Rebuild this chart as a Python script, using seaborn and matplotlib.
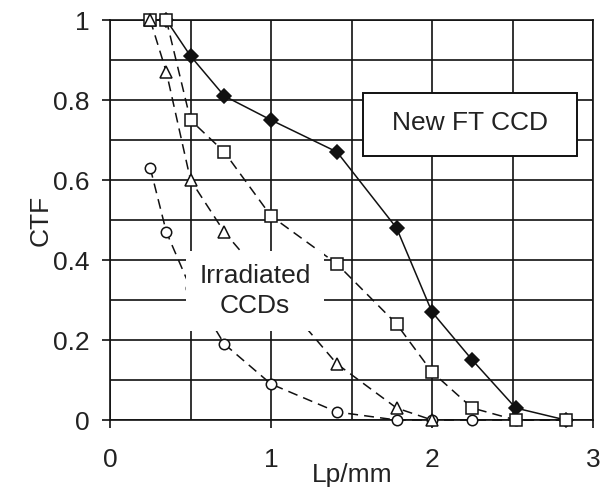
import matplotlib
matplotlib.use("Agg")
import matplotlib.pyplot as plt
import seaborn as sns
import pandas as pd
from matplotlib.patches import Rectangle
from matplotlib.ticker import MultipleLocator

# ---- data ----
new_x = [0.35, 0.5, 0.71, 1.0, 1.41, 1.78, 2.0, 2.25, 2.52, 2.83]
new_y = [1.0, 0.91, 0.81, 0.75, 0.67, 0.48, 0.27, 0.15, 0.03, 0.0]

sq_x = [0.25, 0.35, 0.5, 0.71, 1.0, 1.41, 1.78, 2.0, 2.25, 2.52, 2.83]
sq_y = [1.0, 1.0, 0.75, 0.67, 0.51, 0.39, 0.24, 0.12, 0.03, 0.0, 0.0]

tri_x = [0.25, 0.35, 0.5, 0.71, 1.41, 1.78, 2.0]
tri_y = [1.0, 0.87, 0.60, 0.47, 0.14, 0.03, 0.0]

circ_x = [0.25, 0.35, 0.5, 0.71, 1.0, 1.41, 1.78, 2.0, 2.25, 2.52, 2.83]
circ_y = [0.63, 0.47, 0.33, 0.19, 0.09, 0.02, 0.0, 0.0, 0.0, 0.0, 0.0]

x_ticks = [0, 1, 2, 3]
y_ticks = [0, 0.2, 0.4, 0.6, 0.8, 1]
y_ticklabels = ["0", "0.2", "0.4", "0.6", "0.8", "1"]

# ---- style ----
sns.set_theme(style="white")
plt.rcParams["font.family"] = ["Liberation Sans", "DejaVu Sans"]
plt.rcParams["axes.edgecolor"] = "#111111"

fig = plt.figure(figsize=(6.02, 4.88), dpi=100)
ax = fig.add_axes([110/602, 1-420/488, (593-110)/602, 400/488])

dash = (0, (6.5, 4.0))
common = dict(ax=ax, sort=False, color="#111111", clip_on=False,
              markeredgewidth=1.1, markeredgecolor="#111111")

sns.lineplot(x=circ_x, y=circ_y, marker="o", markersize=7.5, markerfacecolor="white",
             linestyle=dash, linewidth=1.1, zorder=4, **common)
sns.lineplot(x=new_x, y=new_y, marker="D", markersize=6.8, markerfacecolor="#111111",
             linestyle="-", linewidth=1.1, zorder=6, **common)
sns.lineplot(x=sq_x, y=sq_y, marker="s", markersize=8.5, markerfacecolor="white",
             linestyle=dash, linewidth=1.1, zorder=6.5, **common)
sns.lineplot(x=tri_x, y=tri_y, marker="^", markersize=8, markerfacecolor="white",
             linestyle=dash, linewidth=1.1, zorder=6.8, **common)

ax.set_xlim(0, 3)
ax.set_ylim(0, 1)
ax.set_xticks(x_ticks)
ax.set_xticklabels([str(t) for t in x_ticks])
ax.set_yticks(y_ticks)
ax.set_yticklabels(y_ticklabels)
ax.xaxis.set_minor_locator(MultipleLocator(0.5))
ax.yaxis.set_minor_locator(MultipleLocator(0.1))
ax.grid(True, which="both", color="#111111", linewidth=1.2, zorder=1)
ax.set_axisbelow(True)
for s in ax.spines.values():
    s.set_linewidth(1.2)
    s.set_color("#111111")

ax.tick_params(axis="both", which="major", direction="out", length=6, width=1.2,
               color="#111111", labelsize=19, labelcolor="#222222")
ax.tick_params(axis="x", which="major", pad=14)
ax.tick_params(axis="y", which="major", pad=9)
ax.tick_params(which="minor", length=0)
ax.tick_params(left=True, bottom=True)

ax.set_ylabel("CTF", fontsize=19, color="#222222")
ax.yaxis.set_label_coords(-0.118, 0.5)
ax.set_xlabel("Lp/mm", fontsize=19, color="#222222")
ax.xaxis.set_label_coords(0.501, -0.108)

# New FT CCD box
ax.add_patch(Rectangle((1.57, 0.66), 1.33, 0.1575, facecolor="white",
                       edgecolor="#111111", linewidth=1.4, zorder=7))
ax.text(2.236, 0.742, "New FT CCD", fontsize=19, color="#222222",
        ha="center", va="center", zorder=8)

# Irradiated CCDs label
ax.text(0.90, 0.322, "Irradiated\nCCDs", fontsize=19, color="#222222",
        ha="center", va="center", linespacing=1.3, zorder=8,
        bbox=dict(boxstyle="square,pad=0.5", facecolor="white", edgecolor="none"))

fig.savefig("out.png", dpi=100)
